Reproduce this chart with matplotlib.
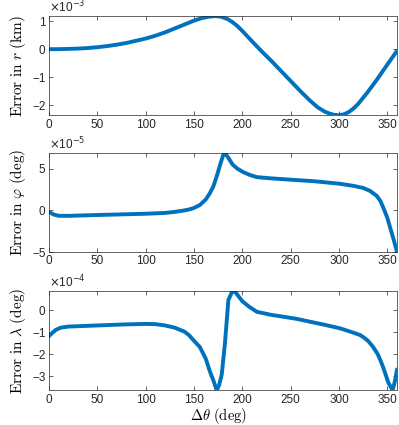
import numpy as np
import matplotlib
matplotlib.use("Agg")
import matplotlib.pyplot as plt

plt.rcParams['mathtext.fontset'] = 'cm'
plt.rcParams['font.family'] = ['Liberation Sans', 'DejaVu Sans']

# error in r (x 1e-3 km)
r_deg = [0, 10, 20, 30, 40, 50, 60, 70, 80, 90, 100, 110, 120, 130, 140, 150,
         158, 165, 172, 178, 185, 190, 195, 200, 210, 220, 230, 240, 250, 260,
         270, 278, 285, 290, 295, 300, 305, 310, 315, 320, 330, 340, 350, 360]
r_err = [0, 0, 0.01, 0.02, 0.04, 0.07, 0.11, 0.16, 0.22, 0.3, 0.38, 0.48, 0.6,
         0.74, 0.88, 1.02, 1.11, 1.16, 1.18, 1.16, 1.07, 0.96, 0.82, 0.65,
         0.28, -0.08, -0.42, -0.78, -1.14, -1.5, -1.84, -2.08, -2.23, -2.3,
         -2.35, -2.36, -2.33, -2.25, -2.12, -1.95, -1.52, -1.05, -0.55, -0.06]

# error in phi (x 1e-5 deg)
phi_deg = [0, 5, 10, 20, 50, 100, 120, 130, 140, 145, 150, 156, 162, 166, 170,
           174, 177, 180, 182, 185, 190, 195, 201, 208, 215, 230, 249, 275, 301,
           315, 325, 332, 339, 343, 347, 350, 354, 357, 360]
phi_err = [-0.2, -0.5, -0.65, -0.65, -0.55, -0.4, -0.3, -0.18, 0.0, 0.12, 0.3,
           0.65, 1.3, 2.0, 2.9, 4.3, 5.5, 6.6, 6.9, 6.4, 5.5, 5.0, 4.6, 4.25,
           4.0, 3.85, 3.7, 3.5, 3.2, 2.95, 2.7, 2.35, 1.75, 1.1, 0.0, -0.9,
           -2.5, -3.7, -5.0]

# error in lambda (x 1e-4 deg)
lam_deg = [0, 3, 7, 12, 20, 50, 80, 100, 110, 120, 130, 140, 145, 150, 156,
           162, 166.5, 170, 173.4, 176, 178.6, 182, 185.5, 189.6, 193, 200, 207,
           215, 230, 242, 256, 270, 285, 301, 315, 322, 326, 330, 335, 340, 343,
           346, 348, 351, 355.5, 358, 360]
lam_err = [-1.18, -1.05, -0.9, -0.8, -0.75, -0.7, -0.65, -0.63, -0.64, -0.7,
           -0.8, -0.98, -1.15, -1.4, -1.68, -2.2, -2.8, -3.2, -3.64, -3.4,
           -2.95, -1.5, 0.45, 0.86, 0.8, 0.4, 0.15, -0.08, -0.22, -0.3, -0.4,
           -0.53, -0.67, -0.83, -1.03, -1.14, -1.26, -1.4, -1.66, -2.0, -2.3,
           -2.64, -2.9, -3.3, -3.64, -3.2, -2.7]

panels = [
    (r_deg, r_err, r'$\mathrm{Error\ in\ }r\mathrm{\ (km)}$', '-3', (-2.36, 1.18), [-2, -1, 0, 1]),
    (phi_deg, phi_err, r'$\mathrm{Error\ in\ }\varphi\mathrm{\ (deg)}$', '-5', (-5, 6.9), [-5, 0, 5]),
    (lam_deg, lam_err, r'$\mathrm{Error\ in\ }\lambda\mathrm{\ (deg)}$', '-4', (-3.64, 0.86), [-3, -2, -1, 0]),
]

fig = plt.figure(figsize=(3.99, 4.25), dpi=100)
bottoms = [0.729, 0.407, 0.082]
edge = '#262626'

for (xd, yd, lab, exp, ylim, yt), b in zip(panels, bottoms):
    ax = fig.add_axes([0.123, b, 0.872, 0.233])
    ax.plot(xd, yd, color='#0072BD', lw=2.8, solid_capstyle='round',
            solid_joinstyle='round')
    ax.set_xlim(0, 360)
    ax.set_ylim(*ylim)
    ax.set_xticks(np.arange(0, 351, 50))
    ax.set_yticks(yt)
    ax.tick_params(direction='in', top=True, right=True, labelsize=8.5,
                   colors=edge, length=3, width=0.5, pad=2.5)
    for s in ax.spines.values():
        s.set_color(edge)
        s.set_linewidth(0.5)
    ax.set_ylabel(lab, fontsize=11, labelpad=3)
    ax.text(0.0, 1.01, r'$\times$10$^{' + exp + '}$', transform=ax.transAxes,
            fontsize=8.5, color=edge, va='bottom', ha='left',
            math_fontfamily='dejavusans')

fig.text(0.548, 1 - 416 / 425, r'$\Delta\theta\mathrm{\ (deg)}$', fontsize=10.5,
         ha='center', va='center')

fig.savefig('out.png', dpi=100)
